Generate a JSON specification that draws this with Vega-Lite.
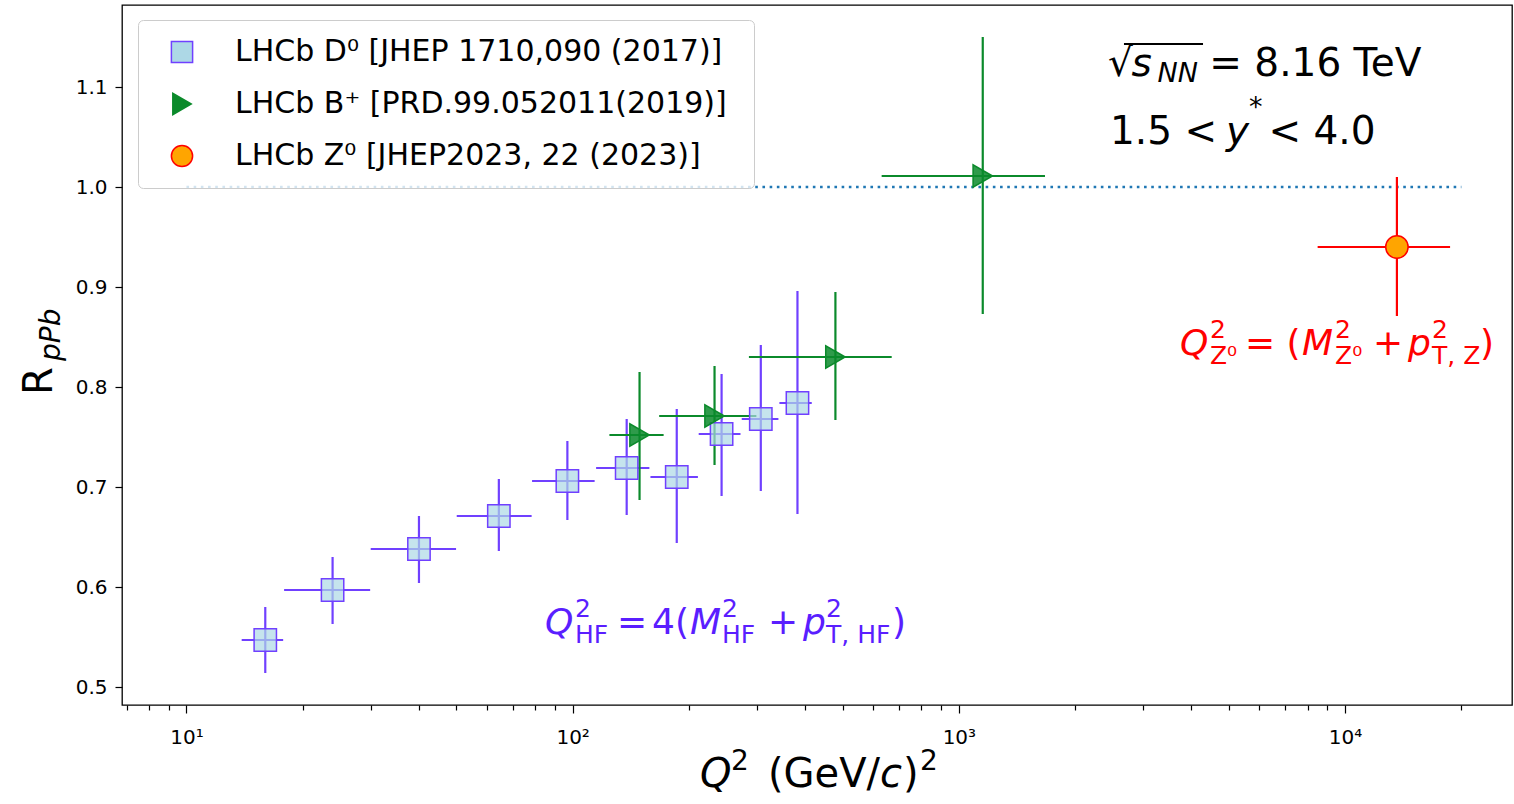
{
  "$schema": "https://vega.github.io/schema/vega-lite/v6.json",
  "width": 1390,
  "height": 700,
  "autosize": {"type": "none"},
  "padding": {"left": 122, "top": 5, "right": 2, "bottom": 99},
  "background": "white",
  "config": {
    "font": "DejaVu Sans",
    "view": {"stroke": "#000000", "strokeWidth": 1.3},
    "axis": {"grid": false, "domain": false, "labelFont": "DejaVu Sans", "labelColor": "#000000", "tickColor": "#000000", "labelFontSize": 20, "tickWidth": 1.2}
  },
  "datasets": {
    "pts": [
      {"exp": "LHCb D⁰ [JHEP 1710,090 (2017)]", "q2": 16.0, "q2lo": 13.9, "q2hi": 17.8, "r": 0.547, "rlo": 0.514, "rhi": 0.580},
      {"exp": "LHCb D⁰ [JHEP 1710,090 (2017)]", "q2": 23.9, "q2lo": 17.9, "q2hi": 29.9, "r": 0.597, "rlo": 0.563, "rhi": 0.630},
      {"exp": "LHCb D⁰ [JHEP 1710,090 (2017)]", "q2": 40.0, "q2lo": 30.0, "q2hi": 49.9, "r": 0.638, "rlo": 0.604, "rhi": 0.671},
      {"exp": "LHCb D⁰ [JHEP 1710,090 (2017)]", "q2": 64.4, "q2lo": 50.1, "q2hi": 78.3, "r": 0.671, "rlo": 0.636, "rhi": 0.708},
      {"exp": "LHCb D⁰ [JHEP 1710,090 (2017)]", "q2": 96.9, "q2lo": 78.5, "q2hi": 114, "r": 0.706, "rlo": 0.667, "rhi": 0.746},
      {"exp": "LHCb D⁰ [JHEP 1710,090 (2017)]", "q2": 138, "q2lo": 115, "q2hi": 158, "r": 0.719, "rlo": 0.672, "rhi": 0.768},
      {"exp": "LHCb D⁰ [JHEP 1710,090 (2017)]", "q2": 186, "q2lo": 159, "q2hi": 211, "r": 0.710, "rlo": 0.644, "rhi": 0.778},
      {"exp": "LHCb D⁰ [JHEP 1710,090 (2017)]", "q2": 243, "q2lo": 212, "q2hi": 272, "r": 0.753, "rlo": 0.691, "rhi": 0.813},
      {"exp": "LHCb D⁰ [JHEP 1710,090 (2017)]", "q2": 307, "q2lo": 274, "q2hi": 341, "r": 0.768, "rlo": 0.696, "rhi": 0.842},
      {"exp": "LHCb D⁰ [JHEP 1710,090 (2017)]", "q2": 382, "q2lo": 343, "q2hi": 416, "r": 0.784, "rlo": 0.673, "rhi": 0.896},
      {"exp": "LHCb B⁺  [PRD.99.052011(2019)]", "q2": 149, "q2lo": 124.5, "q2hi": 172, "r": 0.752, "rlo": 0.687, "rhi": 0.815},
      {"exp": "LHCb B⁺  [PRD.99.052011(2019)]", "q2": 233, "q2lo": 167.5, "q2hi": 299, "r": 0.771, "rlo": 0.722, "rhi": 0.821},
      {"exp": "LHCb B⁺  [PRD.99.052011(2019)]", "q2": 479, "q2lo": 286, "q2hi": 670, "r": 0.830, "rlo": 0.767, "rhi": 0.895},
      {"exp": "LHCb B⁺  [PRD.99.052011(2019)]", "q2": 1153, "q2lo": 631, "q2hi": 1671, "r": 1.011, "rlo": 0.873, "rhi": 1.150},
      {"exp": "LHCb Z⁰ [JHEP2023, 22 (2023)]", "q2": 13620, "q2lo": 8490, "q2hi": 18700, "r": 0.940, "rlo": 0.871, "rhi": 1.010}
    ]
  },
  "layer": [
    {
      "data": {"values": [{}]},
      "mark": {"type": "rule", "color": "#1f77b4", "strokeWidth": 2.6, "strokeDash": [2.6, 4.6]},
      "encoding": {
        "x": {"datum": 10, "type": "quantitative", "scale": {"type": "log", "domain": [6.81, 27050], "nice": false},
          "axis": {
            "title": null,
            "values": [7, 8, 9, 10, 20, 30, 40, 50, 60, 70, 80, 90, 100, 200, 300, 400, 500, 600, 700, 800, 900, 1000, 2000, 3000, 4000, 5000, 6000, 7000, 8000, 9000, 10000, 20000],
            "labelExpr": "datum.value == 10 ? '10¹' : datum.value == 100 ? '10²' : datum.value == 1000 ? '10³' : datum.value == 10000 ? '10⁴' : ''",
            "tickSize": {"condition": {"test": "datum.value == 10 || datum.value == 100 || datum.value == 1000 || datum.value == 10000", "value": 8}, "value": 5},
            "labelPadding": 14,
            "labelFontSize": 20
          }
        },
        "x2": {"datum": 20000},
        "y": {"datum": 1.0, "type": "quantitative", "scale": {"domain": [0.482, 1.182], "nice": false, "zero": false},
          "axis": {"title": null, "values": [0.5, 0.6, 0.7, 0.8, 0.9, 1.0, 1.1], "format": ".1f", "tickSize": 7, "labelPadding": 8, "labelFontSize": 20}
        }
      }
    },
    {
      "data": {"name": "pts"},
      "transform": [{"filter": {"field": "exp", "equal": "LHCb D⁰ [JHEP 1710,090 (2017)]"}}],
      "layer": [
        {"mark": {"type": "rule", "strokeWidth": 2.2, "color": "#7040ff"},
         "encoding": {"x": {"field": "q2lo", "type": "quantitative", "title": null}, "x2": {"field": "q2hi"}, "y": {"field": "r", "type": "quantitative", "title": null}}},
        {"mark": {"type": "rule", "strokeWidth": 2.2, "color": "#7040ff"},
         "encoding": {"x": {"field": "q2", "type": "quantitative", "title": null}, "y": {"field": "rlo", "type": "quantitative", "title": null}, "y2": {"field": "rhi"}}}
      ]
    },
    {
      "data": {"name": "pts"},
      "transform": [{"filter": {"field": "exp", "equal": "LHCb B⁺  [PRD.99.052011(2019)]"}}],
      "layer": [
        {"mark": {"type": "rule", "strokeWidth": 2.2, "color": "#0b8a2b"},
         "encoding": {"x": {"field": "q2lo", "type": "quantitative", "title": null}, "x2": {"field": "q2hi"}, "y": {"field": "r", "type": "quantitative", "title": null}}},
        {"mark": {"type": "rule", "strokeWidth": 2.2, "color": "#0b8a2b"},
         "encoding": {"x": {"field": "q2", "type": "quantitative", "title": null}, "y": {"field": "rlo", "type": "quantitative", "title": null}, "y2": {"field": "rhi"}}}
      ]
    },
    {
      "data": {"name": "pts"},
      "transform": [{"filter": {"field": "exp", "equal": "LHCb Z⁰ [JHEP2023, 22 (2023)]"}}],
      "layer": [
        {"mark": {"type": "rule", "strokeWidth": 2.2, "color": "#ff0000"},
         "encoding": {"x": {"field": "q2lo", "type": "quantitative", "title": null}, "x2": {"field": "q2hi"}, "y": {"field": "r", "type": "quantitative", "title": null}}},
        {"mark": {"type": "rule", "strokeWidth": 2.2, "color": "#ff0000"},
         "encoding": {"x": {"field": "q2", "type": "quantitative", "title": null}, "y": {"field": "rlo", "type": "quantitative", "title": null}, "y2": {"field": "rhi"}}}
      ]
    },
    {
      "data": {"name": "pts"},
      "mark": {"type": "point", "size": 500, "strokeWidth": 1.5, "opacity": 1},
      "encoding": {
        "x": {"field": "q2", "type": "quantitative", "title": null},
        "y": {"field": "r", "type": "quantitative", "title": null},
        "shape": {"field": "exp", "type": "nominal",
          "scale": {"domain": ["LHCb D⁰ [JHEP 1710,090 (2017)]", "LHCb B⁺  [PRD.99.052011(2019)]", "LHCb Z⁰ [JHEP2023, 22 (2023)]"], "range": ["square", "triangle-right", "circle"]},
          "legend": {"title": null, "orient": "none", "legendX": 16, "legendY": 15, "labelFont": "DejaVu Sans", "labelFontSize": 30, "labelColor": "#000000", "labelLimit": 2000, "symbolSize": 450, "symbolStrokeWidth": 1.5, "padding": 17, "rowPadding": 22, "strokeColor": "#cccccc", "fillColor": "rgba(255,255,255,0.8)", "cornerRadius": 5, "symbolOffset": 12, "labelOffset": 38}},
        "fill": {"field": "exp", "type": "nominal",
          "scale": {"domain": ["LHCb D⁰ [JHEP 1710,090 (2017)]", "LHCb B⁺  [PRD.99.052011(2019)]", "LHCb Z⁰ [JHEP2023, 22 (2023)]"], "range": ["#add8e6", "#0b8a2b", "#ffa500"]},
          "legend": {"title": null, "orient": "none", "legendX": 16, "legendY": 15, "labelFont": "DejaVu Sans", "labelFontSize": 30, "labelColor": "#000000", "labelLimit": 2000, "symbolSize": 450, "symbolStrokeWidth": 1.5, "padding": 17, "rowPadding": 22, "strokeColor": "#cccccc", "fillColor": "rgba(255,255,255,0.8)", "cornerRadius": 5, "symbolOffset": 12, "labelOffset": 38}},
        "stroke": {"field": "exp", "type": "nominal",
          "scale": {"domain": ["LHCb D⁰ [JHEP 1710,090 (2017)]", "LHCb B⁺  [PRD.99.052011(2019)]", "LHCb Z⁰ [JHEP2023, 22 (2023)]"], "range": ["#7040ff", "#0b8a2b", "#ff0000"]},
          "legend": {"title": null, "orient": "none", "legendX": 16, "legendY": 15, "labelFont": "DejaVu Sans", "labelFontSize": 30, "labelColor": "#000000", "labelLimit": 2000, "symbolSize": 450, "symbolStrokeWidth": 1.5, "padding": 17, "rowPadding": 22, "strokeColor": "#cccccc", "fillColor": "rgba(255,255,255,0.8)", "cornerRadius": 5, "symbolOffset": 12, "labelOffset": 38}},
        "fillOpacity": {"field": "exp", "type": "nominal",
          "scale": {"domain": ["LHCb D⁰ [JHEP 1710,090 (2017)]", "LHCb B⁺  [PRD.99.052011(2019)]", "LHCb Z⁰ [JHEP2023, 22 (2023)]"], "range": [0.7, 1.0, 0.85]},
          "legend": {"title": null, "orient": "none", "legendX": 16, "legendY": 15, "labelFont": "DejaVu Sans", "labelFontSize": 30, "labelColor": "#000000", "labelLimit": 2000, "symbolSize": 450, "symbolStrokeWidth": 1.5, "padding": 17, "rowPadding": 22, "strokeColor": "#cccccc", "fillColor": "rgba(255,255,255,0.8)", "cornerRadius": 5, "symbolOffset": 12, "labelOffset": 38}}
      }
    },
    {
      "data": {"values": [{}]},
      "layer": [
        {"mark": {"type": "rule", "color": "#000000", "strokeWidth": 1.8}, "encoding": {"x": {"datum": 2676, "type": "quantitative"}, "x2": {"datum": 4287}, "y": {"datum": 1.143, "type": "quantitative"}}},
        {"mark": {"type": "text", "text": "√", "fontSize": 39, "align": "left", "baseline": "alphabetic", "color": "#000000"}, "encoding": {"x": {"datum": 2433, "type": "quantitative"}, "y": {"datum": 1.111, "type": "quantitative"}}},
        {"mark": {"type": "text", "text": "s", "fontSize": 39, "fontStyle": "italic", "align": "left", "baseline": "alphabetic", "color": "#000000"}, "encoding": {"x": {"datum": 2800, "type": "quantitative"}, "y": {"datum": 1.111, "type": "quantitative"}}},
        {"mark": {"type": "text", "text": "NN", "fontSize": 27, "fontStyle": "italic", "align": "left", "baseline": "alphabetic", "color": "#000000"}, "encoding": {"x": {"datum": 3270, "type": "quantitative"}, "y": {"datum": 1.105, "type": "quantitative"}}},
        {"mark": {"type": "text", "text": "= 8.16 TeV", "fontSize": 39, "align": "left", "baseline": "alphabetic", "color": "#000000"}, "encoding": {"x": {"datum": 4450, "type": "quantitative"}, "y": {"datum": 1.111, "type": "quantitative"}}},
        {"mark": {"type": "text", "text": "1.5 <", "fontSize": 39, "align": "left", "baseline": "alphabetic", "color": "#000000"}, "encoding": {"x": {"datum": 2462, "type": "quantitative"}, "y": {"datum": 1.043, "type": "quantitative"}}},
        {"mark": {"type": "text", "text": "y", "fontSize": 39, "fontStyle": "italic", "align": "left", "baseline": "alphabetic", "color": "#000000"}, "encoding": {"x": {"datum": 4916, "type": "quantitative"}, "y": {"datum": 1.043, "type": "quantitative"}}},
        {"mark": {"type": "text", "text": "*", "fontSize": 27, "align": "left", "baseline": "alphabetic", "color": "#000000"}, "encoding": {"x": {"datum": 5639, "type": "quantitative"}, "y": {"datum": 1.071, "type": "quantitative"}}},
        {"mark": {"type": "text", "text": "< 4.0", "fontSize": 39, "align": "left", "baseline": "alphabetic", "color": "#000000"}, "encoding": {"x": {"datum": 6330, "type": "quantitative"}, "y": {"datum": 1.043, "type": "quantitative"}}},

        {"mark": {"type": "text", "text": "Q", "fontSize": 36, "fontStyle": "italic", "align": "left", "baseline": "alphabetic", "color": "#5a1eff"}, "encoding": {"x": {"datum": 84.8, "type": "quantitative"}, "y": {"datum": 0.553, "type": "quantitative"}}},
        {"mark": {"type": "text", "text": "2", "fontSize": 25, "align": "left", "baseline": "alphabetic", "color": "#5a1eff"}, "encoding": {"x": {"datum": 101.4, "type": "quantitative"}, "y": {"datum": 0.570, "type": "quantitative"}}},
        {"mark": {"type": "text", "text": "HF", "fontSize": 25, "align": "left", "baseline": "alphabetic", "color": "#5a1eff"}, "encoding": {"x": {"datum": 101.4, "type": "quantitative"}, "y": {"datum": 0.544, "type": "quantitative"}}},
        {"mark": {"type": "text", "text": "=", "fontSize": 36, "align": "left", "baseline": "alphabetic", "color": "#5a1eff"}, "encoding": {"x": {"datum": 130.2, "type": "quantitative"}, "y": {"datum": 0.553, "type": "quantitative"}}},
        {"mark": {"type": "text", "text": "4(", "fontSize": 36, "align": "left", "baseline": "alphabetic", "color": "#5a1eff"}, "encoding": {"x": {"datum": 160.5, "type": "quantitative"}, "y": {"datum": 0.553, "type": "quantitative"}}},
        {"mark": {"type": "text", "text": "M", "fontSize": 36, "fontStyle": "italic", "align": "left", "baseline": "alphabetic", "color": "#5a1eff"}, "encoding": {"x": {"datum": 201.2, "type": "quantitative"}, "y": {"datum": 0.553, "type": "quantitative"}}},
        {"mark": {"type": "text", "text": "2", "fontSize": 25, "align": "left", "baseline": "alphabetic", "color": "#5a1eff"}, "encoding": {"x": {"datum": 243.6, "type": "quantitative"}, "y": {"datum": 0.570, "type": "quantitative"}}},
        {"mark": {"type": "text", "text": "HF", "fontSize": 25, "align": "left", "baseline": "alphabetic", "color": "#5a1eff"}, "encoding": {"x": {"datum": 243.6, "type": "quantitative"}, "y": {"datum": 0.544, "type": "quantitative"}}},
        {"mark": {"type": "text", "text": "+", "fontSize": 36, "align": "left", "baseline": "alphabetic", "color": "#5a1eff"}, "encoding": {"x": {"datum": 320.4, "type": "quantitative"}, "y": {"datum": 0.553, "type": "quantitative"}}},
        {"mark": {"type": "text", "text": "p", "fontSize": 36, "fontStyle": "italic", "align": "left", "baseline": "alphabetic", "color": "#5a1eff"}, "encoding": {"x": {"datum": 394.8, "type": "quantitative"}, "y": {"datum": 0.553, "type": "quantitative"}}},
        {"mark": {"type": "text", "text": "2", "fontSize": 25, "align": "left", "baseline": "alphabetic", "color": "#5a1eff"}, "encoding": {"x": {"datum": 452.8, "type": "quantitative"}, "y": {"datum": 0.570, "type": "quantitative"}}},
        {"mark": {"type": "text", "text": "T, HF", "fontSize": 25, "align": "left", "baseline": "alphabetic", "color": "#5a1eff"}, "encoding": {"x": {"datum": 452.8, "type": "quantitative"}, "y": {"datum": 0.544, "type": "quantitative"}}},
        {"mark": {"type": "text", "text": ")", "fontSize": 36, "align": "left", "baseline": "alphabetic", "color": "#5a1eff"}, "encoding": {"x": {"datum": 671.1, "type": "quantitative"}, "y": {"datum": 0.553, "type": "quantitative"}}},

        {"mark": {"type": "text", "text": "Q", "fontSize": 36, "fontStyle": "italic", "align": "left", "baseline": "alphabetic", "color": "#ff0000"}, "encoding": {"x": {"datum": 3737, "type": "quantitative"}, "y": {"datum": 0.832, "type": "quantitative"}}},
        {"mark": {"type": "text", "text": "2", "fontSize": 25, "align": "left", "baseline": "alphabetic", "color": "#ff0000"}, "encoding": {"x": {"datum": 4469, "type": "quantitative"}, "y": {"datum": 0.849, "type": "quantitative"}}},
        {"mark": {"type": "text", "text": "Z⁰", "fontSize": 25, "align": "left", "baseline": "alphabetic", "color": "#ff0000"}, "encoding": {"x": {"datum": 4469, "type": "quantitative"}, "y": {"datum": 0.823, "type": "quantitative"}}},
        {"mark": {"type": "text", "text": "= (", "fontSize": 36, "align": "left", "baseline": "alphabetic", "color": "#ff0000"}, "encoding": {"x": {"datum": 5506, "type": "quantitative"}, "y": {"datum": 0.832, "type": "quantitative"}}},
        {"mark": {"type": "text", "text": "M", "fontSize": 36, "fontStyle": "italic", "align": "left", "baseline": "alphabetic", "color": "#ff0000"}, "encoding": {"x": {"datum": 7733, "type": "quantitative"}, "y": {"datum": 0.832, "type": "quantitative"}}},
        {"mark": {"type": "text", "text": "2", "fontSize": 25, "align": "left", "baseline": "alphabetic", "color": "#ff0000"}, "encoding": {"x": {"datum": 9417, "type": "quantitative"}, "y": {"datum": 0.849, "type": "quantitative"}}},
        {"mark": {"type": "text", "text": "Z⁰", "fontSize": 25, "align": "left", "baseline": "alphabetic", "color": "#ff0000"}, "encoding": {"x": {"datum": 9417, "type": "quantitative"}, "y": {"datum": 0.823, "type": "quantitative"}}},
        {"mark": {"type": "text", "text": "+", "fontSize": 36, "align": "left", "baseline": "alphabetic", "color": "#ff0000"}, "encoding": {"x": {"datum": 11812, "type": "quantitative"}, "y": {"datum": 0.832, "type": "quantitative"}}},
        {"mark": {"type": "text", "text": "p", "fontSize": 36, "fontStyle": "italic", "align": "left", "baseline": "alphabetic", "color": "#ff0000"}, "encoding": {"x": {"datum": 14550, "type": "quantitative"}, "y": {"datum": 0.832, "type": "quantitative"}}},
        {"mark": {"type": "text", "text": "2", "fontSize": 25, "align": "left", "baseline": "alphabetic", "color": "#ff0000"}, "encoding": {"x": {"datum": 16790, "type": "quantitative"}, "y": {"datum": 0.849, "type": "quantitative"}}},
        {"mark": {"type": "text", "text": "T, Z", "fontSize": 25, "align": "left", "baseline": "alphabetic", "color": "#ff0000"}, "encoding": {"x": {"datum": 16790, "type": "quantitative"}, "y": {"datum": 0.823, "type": "quantitative"}}},
        {"mark": {"type": "text", "text": ")", "fontSize": 36, "align": "left", "baseline": "alphabetic", "color": "#ff0000"}, "encoding": {"x": {"datum": 22360, "type": "quantitative"}, "y": {"datum": 0.832, "type": "quantitative"}}},

        {"mark": {"type": "text", "text": "Q", "fontSize": 40, "fontStyle": "italic", "align": "left", "baseline": "alphabetic", "color": "#000000"}, "encoding": {"x": {"datum": 213.6, "type": "quantitative"}, "y": {"datum": 0.40, "type": "quantitative"}}},
        {"mark": {"type": "text", "text": "2", "fontSize": 28, "align": "left", "baseline": "alphabetic", "color": "#000000"}, "encoding": {"x": {"datum": 257.0, "type": "quantitative"}, "y": {"datum": 0.417, "type": "quantitative"}}},
        {"mark": {"type": "text", "text": "(GeV/", "fontSize": 40, "align": "left", "baseline": "alphabetic", "color": "#000000"}, "encoding": {"x": {"datum": 320.4, "type": "quantitative"}, "y": {"datum": 0.40, "type": "quantitative"}}},
        {"mark": {"type": "text", "text": "c", "fontSize": 40, "fontStyle": "italic", "align": "left", "baseline": "alphabetic", "color": "#000000"}, "encoding": {"x": {"datum": 624.8, "type": "quantitative"}, "y": {"datum": 0.40, "type": "quantitative"}}},
        {"mark": {"type": "text", "text": ")", "fontSize": 40, "align": "left", "baseline": "alphabetic", "color": "#000000"}, "encoding": {"x": {"datum": 716.8, "type": "quantitative"}, "y": {"datum": 0.40, "type": "quantitative"}}},
        {"mark": {"type": "text", "text": "2", "fontSize": 28, "align": "left", "baseline": "alphabetic", "color": "#000000"}, "encoding": {"x": {"datum": 793.0, "type": "quantitative"}, "y": {"datum": 0.417, "type": "quantitative"}}},

        {"mark": {"type": "text", "text": "R", "fontSize": 40, "angle": 270, "align": "left", "baseline": "alphabetic", "color": "#000000"}, "encoding": {"x": {"datum": 4.484, "type": "quantitative"}, "y": {"datum": 0.792, "type": "quantitative"}}},
        {"mark": {"type": "text", "text": "pPb", "fontSize": 28, "fontStyle": "italic", "angle": 270, "align": "left", "baseline": "alphabetic", "color": "#000000"}, "encoding": {"x": {"datum": 4.704, "type": "quantitative"}, "y": {"datum": 0.826, "type": "quantitative"}}}
      ]
    }
  ]
}
